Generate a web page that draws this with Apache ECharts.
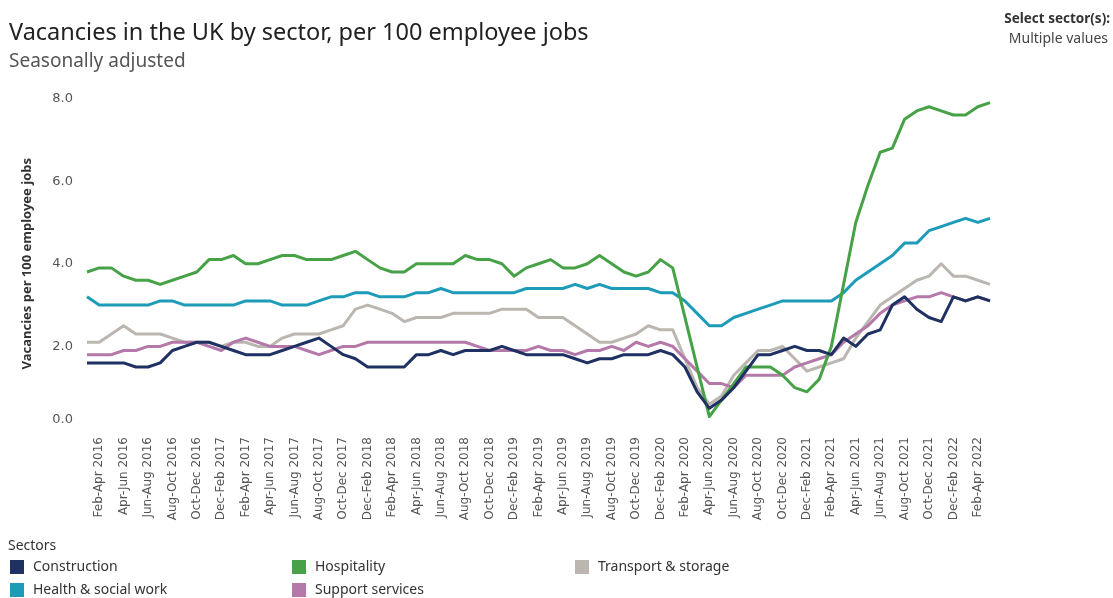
<!DOCTYPE html>
<html>
<head>
<meta charset="utf-8">
<script src="https://cdn.jsdelivr.net/npm/echarts@6/dist/echarts.min.js"></script>
<style>
html,body{margin:0;padding:0;background:#fff;}
#chart{width:1113px;height:598px;}
</style>
</head>
<body>
<div id="chart"></div>
<script>
// ---- Data (rolling 3-month periods) ----
const categories = [
  "Jan-Mar 2016","Feb-Apr 2016","Mar-May 2016","Apr-Jun 2016","May-Jul 2016","Jun-Aug 2016","Jul-Sep 2016","Aug-Oct 2016","Sep-Nov 2016","Oct-Dec 2016","Nov-Jan 2017","Dec-Feb 2017",
  "Jan-Mar 2017","Feb-Apr 2017","Mar-May 2017","Apr-Jun 2017","May-Jul 2017","Jun-Aug 2017","Jul-Sep 2017","Aug-Oct 2017","Sep-Nov 2017","Oct-Dec 2017","Nov-Jan 2018","Dec-Feb 2018",
  "Jan-Mar 2018","Feb-Apr 2018","Mar-May 2018","Apr-Jun 2018","May-Jul 2018","Jun-Aug 2018","Jul-Sep 2018","Aug-Oct 2018","Sep-Nov 2018","Oct-Dec 2018","Nov-Jan 2019","Dec-Feb 2019",
  "Jan-Mar 2019","Feb-Apr 2019","Mar-May 2019","Apr-Jun 2019","May-Jul 2019","Jun-Aug 2019","Jul-Sep 2019","Aug-Oct 2019","Sep-Nov 2019","Oct-Dec 2019","Nov-Jan 2020","Dec-Feb 2020",
  "Jan-Mar 2020","Feb-Apr 2020","Mar-May 2020","Apr-Jun 2020","May-Jul 2020","Jun-Aug 2020","Jul-Sep 2020","Aug-Oct 2020","Sep-Nov 2020","Oct-Dec 2020","Nov-Jan 2021","Dec-Feb 2021",
  "Jan-Mar 2021","Feb-Apr 2021","Mar-May 2021","Apr-Jun 2021","May-Jul 2021","Jun-Aug 2021","Jul-Sep 2021","Aug-Oct 2021","Sep-Nov 2021","Oct-Dec 2021","Nov-Jan 2022","Dec-Feb 2022",
  "Jan-Mar 2022","Feb-Apr 2022","Mar-May 2022"
];

const construction = [1.6,1.6,1.6,1.6,1.5,1.5,1.6,1.9,2.0,2.1, 2.1,2.0,1.9,1.8,1.8,1.8,1.9,2.0,2.1,2.2,
  2.0,1.8,1.7,1.5,1.5,1.5,1.5,1.8,1.8,1.9, 1.8,1.9,1.9,1.9,2.0,1.9,1.8,1.8,1.8,1.8,
  1.7,1.6,1.7,1.7,1.8,1.8,1.8,1.9,1.8,1.5, 0.9,0.5,0.7,1.0,1.4,1.8,1.8,1.9,2.0,1.9,
  1.9,1.8,2.2,2.0,2.3,2.4,3.0,3.2,2.9,2.7, 2.6,3.2,3.1,3.2,3.1];

const hospitality = [3.8,3.9,3.9,3.7,3.6,3.6,3.5,3.6,3.7,3.8, 4.1,4.1,4.2,4.0,4.0,4.1,4.2,4.2,4.1,4.1,
  4.1,4.2,4.3,4.1,3.9,3.8,3.8,4.0,4.0,4.0, 4.0,4.2,4.1,4.1,4.0,3.7,3.9,4.0,4.1,3.9,
  3.9,4.0,4.2,4.0,3.8,3.7,3.8,4.1,3.9,2.7, 1.5,0.3,0.7,1.1,1.5,1.5,1.5,1.3,1.0,0.9,
  1.2,2.0,3.5,5.0,5.9,6.7,6.8,7.5,7.7,7.8, 7.7,7.6,7.6,7.8,7.9];

const health = [3.2,3.0,3.0,3.0,3.0,3.0,3.1,3.1,3.0,3.0, 3.0,3.0,3.0,3.1,3.1,3.1,3.0,3.0,3.0,3.1,
  3.2,3.2,3.3,3.3,3.2,3.2,3.2,3.3,3.3,3.4, 3.3,3.3,3.3,3.3,3.3,3.3,3.4,3.4,3.4,3.4,
  3.5,3.4,3.5,3.4,3.4,3.4,3.4,3.3,3.3,3.1, 2.8,2.5,2.5,2.7,2.8,2.9,3.0,3.1,3.1,3.1,
  3.1,3.1,3.3,3.6,3.8,4.0,4.2,4.5,4.5,4.8, 4.9,5.0,5.1,5.0,5.1];

const transport = [2.1,2.1,2.3,2.5,2.3,2.3,2.3,2.2,2.1,2.1, 2.1,2.0,2.1,2.1,2.0,2.0,2.2,2.3,2.3,2.3,
  2.4,2.5,2.9,3.0,2.9,2.8,2.6,2.7,2.7,2.7, 2.8,2.8,2.8,2.8,2.9,2.9,2.9,2.7,2.7,2.7,
  2.5,2.3,2.1,2.1,2.2,2.3,2.5,2.4,2.4,1.7, 1.0,0.6,0.8,1.3,1.6,1.9,1.9,2.0,1.7,1.4,
  1.5,1.6,1.7,2.2,2.6,3.0,3.2,3.4,3.6,3.7, 4.0,3.7,3.7,3.6,3.5];

const support = [1.8,1.8,1.8,1.9,1.9,2.0,2.0,2.1,2.1,2.1, 2.0,1.9,2.1,2.2,2.1,2.0,2.0,2.0,1.9,1.8,
  1.9,2.0,2.0,2.1,2.1,2.1,2.1,2.1,2.1,2.1, 2.1,2.1,2.0,1.9,1.9,1.9,1.9,2.0,1.9,1.9,
  1.8,1.9,1.9,2.0,1.9,2.1,2.0,2.1,2.0,1.7, 1.4,1.1,1.1,1.0,1.3,1.3,1.3,1.3,1.5,1.6,
  1.7,1.8,2.1,2.3,2.5,2.8,3.0,3.1,3.2,3.2, 3.3,3.2,3.1,3.2,3.1];

const yTicks = [0, 2, 4, 6, 8];

const colors = {
  "Construction": "#1f3062",
  "Health & social work": "#1d9bb8",
  "Hospitality": "#47a247",
  "Support services": "#b479a9",
  "Transport & storage": "#bcb6b1"
};

// ---- Chart ----
const chart = echarts.init(document.getElementById('chart'), null, {renderer: 'canvas'});

function lineSeries(name, data, z) {
  return {
    name: name, type: 'line', data: data, z: z,
    showSymbol: false, symbol: 'none', smooth: false,
    lineStyle: {width: 3, color: colors[name], join: 'round'},
    itemStyle: {color: colors[name]},
    emphasis: {disabled: true}
  };
}

const legendCommon = {
  icon: 'rect', itemWidth: 14, itemHeight: 14, padding: 0,
  selectedMode: false,
  textStyle: {fontFamily: 'Noto Sans', fontSize: 14, color: '#333', padding: [0, 0, 0, 4]}
};

const option = {
  animation: false,
  backgroundColor: '#ffffff',
  title: [
    {text: 'Vacancies in the UK by sector, per 100 employee jobs', left: 9, top: 21, padding: 0,
     textStyle: {fontFamily: 'Noto Sans', fontSize: 23.5, fontWeight: 'normal', color: '#222'}},
    {text: 'Seasonally adjusted', left: 9, top: 52, padding: 0,
     textStyle: {fontFamily: 'Noto Sans', fontSize: 19, fontWeight: 'normal', color: '#555'}},
    {text: 'Select sector(s):', right: 3, top: 12, padding: 0,
     textStyle: {fontFamily: 'Noto Sans', fontSize: 13.5, fontWeight: 'bold', color: '#333'}},
    {text: 'Multiple values', right: 5, top: 32, padding: 0,
     textStyle: {fontFamily: 'Noto Sans', fontSize: 14, fontWeight: 'normal', color: '#444'}}
  ],
  legend: [
    Object.assign({data: ['Construction'], left: 10, top: 560}, legendCommon),
    Object.assign({data: ['Health & social work'], left: 10, top: 583}, legendCommon),
    Object.assign({data: ['Hospitality'], left: 292, top: 560}, legendCommon),
    Object.assign({data: ['Support services'], left: 292, top: 583}, legendCommon),
    Object.assign({data: ['Transport & storage'], left: 575, top: 560}, legendCommon)
  ],
  graphic: [
    {type: 'text', left: 8, top: 539,
     style: {text: 'Sectors', fontFamily: 'Noto Sans', fontSize: 14, fill: '#333'}}
  ],
  grid: {left: 87, right: 123, top: 98.5, bottom: 169, containLabel: false},
  xAxis: {
    type: 'category', data: categories, boundaryGap: false,
    axisLine: {show: false}, axisTick: {show: false}, splitLine: {show: false},
    axisLabel: {
      rotate: 90, margin: 8,
      interval: function (index) { return index % 2 === 1; },
      fontFamily: 'DejaVu Sans', fontSize: 12, color: '#555'
    }
  },
  yAxis: {
    type: 'value', min: yTicks[0], max: yTicks[yTicks.length - 1], interval: 2,
    name: 'Vacancies per 100 employee jobs', nameLocation: 'middle', nameGap: 53, nameRotate: 90,
    nameTextStyle: {fontFamily: 'Noto Sans', fontSize: 13, fontWeight: 'bold', color: '#333'},
    axisLine: {show: false}, axisTick: {show: false}, splitLine: {show: false},
    axisLabel: {
      margin: 14, fontFamily: 'DejaVu Sans', fontSize: 13, color: '#555',
      formatter: function (v) { return v === 0 ? '{z|0.0}' : v.toFixed(1); },
      rich: {z: {fontFamily: 'DejaVu Sans', fontSize: 13, color: '#555', padding: [0, 0, 18, 0]}}
    }
  },
  series: [
    lineSeries('Transport & storage', transport, 1),
    lineSeries('Support services', support, 2),
    lineSeries('Health & social work', health, 3),
    lineSeries('Hospitality', hospitality, 4),
    lineSeries('Construction', construction, 5)
  ]
};

chart.setOption(option);
</script>
</body>
</html>
